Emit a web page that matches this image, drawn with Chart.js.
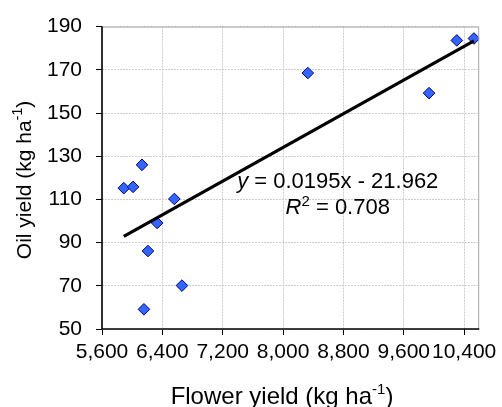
<!DOCTYPE html>
<html>
<head>
<meta charset="utf-8">
<script src="https://cdn.jsdelivr.net/npm/chart.js@4/dist/chart.umd.min.js"></script>
<style>
html,body{margin:0;padding:0;background:#fff;}
#wrap{width:502px;height:407px;position:relative;}
</style>
</head>
<body>
<div id="wrap"><canvas id="c" width="502" height="407"></canvas></div>
<script>
// ---- data ----
const flowerYield = [5889, 6012, 6130, 6559, 6331, 6209, 6660, 6156, 8328, 9935, 10303, 10530];
const oilYield    = [115.2, 115.8, 126.0, 110.2, 99.1, 86.1, 70.1, 59.1, 168.5, 159.2, 183.6, 184.5];
const xTicks = [5600, 6400, 7200, 8000, 8800, 9600, 10400];
const yTicks = [50, 70, 90, 110, 130, 150, 170, 190];
const slope = 0.0195;
const intercept = -21.962;
const rSquared = 0.708;
const xTitle = 'Flower yield (kg ha';
const yTitle = 'Oil yield (kg ha';
const titleSup = '-1';

const FONT = '"Liberation Sans", Arial, sans-serif';
const points = flowerYield.map((x, i) => ({x: x, y: oilYield[i]}));
const xMinD = Math.min(...flowerYield), xMaxD = Math.max(...flowerYield);
const trend = [xMinD, xMaxD].map(x => ({x: x, y: slope * x + intercept}));

function drawSupText(ctx, parts, x, y, align) {
  let total = 0;
  parts.forEach(p => {
    ctx.font = (p.italic ? 'italic ' : '') + p.size + 'px ' + FONT;
    p.w = ctx.measureText(p.t).width;
    total += p.w;
  });
  let cx = align === 'center' ? x - total / 2 : x;
  parts.forEach(p => {
    ctx.font = (p.italic ? 'italic ' : '') + p.size + 'px ' + FONT;
    ctx.fillText(p.t, cx, y - (p.sup || 0));
    cx += p.w;
  });
}

const overlay = {
  id: 'overlay',
  afterDraw(chart) {
    const ctx = chart.ctx, a = chart.chartArea;
    ctx.save();
    ctx.strokeStyle = '#a8a8a8';
    ctx.lineWidth = 1;
    ctx.beginPath();
    ctx.moveTo(a.left, a.top + 0.5);
    ctx.lineTo(a.right - 0.5, a.top + 0.5);
    ctx.lineTo(a.right - 0.5, a.bottom);
    ctx.stroke();
    ctx.strokeStyle = '#000';
    ctx.lineWidth = 1.6;
    ctx.beginPath();
    ctx.moveTo(a.left, a.top);
    ctx.lineTo(a.left, a.bottom);
    ctx.lineTo(a.right, a.bottom);
    ctx.stroke();

    ctx.fillStyle = '#000';
    ctx.textBaseline = 'alphabetic';
    ctx.textAlign = 'left';
    const ax = a.left + (a.right - a.left) * 0.625;
    drawSupText(ctx, [
      {t: 'y', size: 22, italic: true},
      {t: ' = ' + slope.toFixed(4) + 'x - ' + Math.abs(intercept).toFixed(3), size: 22}
    ], ax, 188, 'center');
    drawSupText(ctx, [
      {t: 'R', size: 22, italic: true},
      {t: '2', size: 15, sup: 8},
      {t: ' = ' + rSquared.toFixed(3), size: 22}
    ], ax, 214, 'center');

    drawSupText(ctx, [
      {t: xTitle, size: 24},
      {t: titleSup, size: 15, sup: 10},
      {t: ')', size: 24}
    ], 282, 404, 'center');
    ctx.translate(31, 180);
    ctx.rotate(-Math.PI / 2);
    drawSupText(ctx, [
      {t: yTitle, size: 21},
      {t: titleSup, size: 14, sup: 9},
      {t: ')', size: 21}
    ], 0, 0, 'center');
    ctx.restore();
  }
};

new Chart(document.getElementById('c'), {
  type: 'scatter',
  data: {
    datasets: [
      {
        type: 'line',
        data: trend,
        borderColor: '#000',
        borderWidth: 3.2,
        pointRadius: 0,
        fill: false,
        showLine: true
      },
      {
        data: points,
        pointStyle: 'rectRot',
        pointRadius: 5.8,
        pointBackgroundColor: '#3366ff',
        pointBorderColor: '#000080',
        pointBorderWidth: 1
      }
    ]
  },
  options: {
    responsive: false,
    animation: false,
    devicePixelRatio: 1,
    layout: {padding: {left: 0, top: 23, right: 19, bottom: 0}},
    plugins: {legend: {display: false}, tooltip: {enabled: false}},
    scales: {
      x: {
        type: 'linear',
        min: 5600,
        max: 10600,
        afterBuildTicks: s => { s.ticks = xTicks.map(v => ({value: v})); },
        afterFit: s => { s.height = 78; },
        border: {display: false, dash: [2, 1]},
        grid: {color: '#cccccc', tickColor: '#000', tickLength: 6, tickBorderDash: [], tickWidth: 1},
        ticks: {
          autoSkip: false, maxRotation: 0, padding: 5, color: '#000',
          font: {family: FONT, size: 21},
          callback: v => v.toLocaleString('en-US')
        }
      },
      y: {
        min: 50,
        max: 190,
        afterBuildTicks: s => { s.ticks = yTicks.map(v => ({value: v})); },
        afterFit: s => { s.width = 102; },
        border: {display: false, dash: [2, 1]},
        grid: {color: '#cccccc', tickColor: '#000', tickLength: 6, tickBorderDash: [], tickWidth: 1},
        ticks: {
          padding: 14, color: '#000',
          font: {family: FONT, size: 21}
        }
      }
    }
  },
  plugins: [overlay]
});
</script>
</body>
</html>
